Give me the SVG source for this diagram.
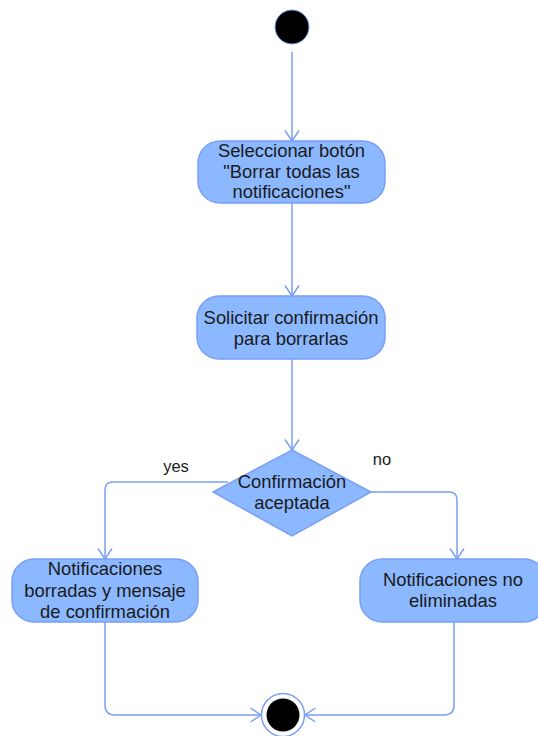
<svg xmlns="http://www.w3.org/2000/svg" width="538" height="736" viewBox="0 0 538 736">
  <style>
    .act { fill: #8bb8ff; stroke: #7a9ff5; stroke-width: 1.5; }
    .lbl { font-family: "Liberation Sans", Arial, sans-serif; font-size: 18.4px; fill: #1a1a1a; text-anchor: middle; }
    .edge-lbl { font-family: "Liberation Sans", Arial, sans-serif; font-size: 16.5px; fill: #1a1a1a; text-anchor: middle; }
    .edge { fill: none; stroke: #7a9ff5; stroke-width: 1.5; marker-end: url(#open); }
  </style>
  <defs>
    <marker id="open" viewBox="0 0 12 16" refX="11.5" refY="8" markerWidth="12" markerHeight="16" markerUnits="userSpaceOnUse" orient="auto">
      <path d="M1,1 L11.5,8 L1,15" fill="none" stroke="#7a9ff5" stroke-width="1.5"/>
    </marker>
  </defs>

  <g id="connectors">
    <path class="edge" d="M292,52 V141"/>
    <path class="edge" d="M292,203 V296"/>
    <path class="edge" d="M292,359 V450"/>
    <path class="edge" d="M228,482 H113 Q105,482 105,490 V559"/>
    <path class="edge" d="M371,492 H449 Q457,492 457,500 V559"/>
    <path class="edge" d="M105,622 V705 Q105,715 115,715 H261"/>
    <path class="edge" d="M454,622 V705 Q454,715 444,715 H305"/>
  </g>

  <g id="start">
    <circle cx="292" cy="27" r="17" fill="#000" stroke="#7a9ff5" stroke-width="1"/>
  </g>

  <g id="select-button">
    <rect class="act" x="198" y="141" width="187" height="62" rx="22"/>
    <text class="lbl" x="291.5" y="157">Seleccionar botón</text>
    <text class="lbl" x="291.5" y="177.5">"Borrar todas las</text>
    <text class="lbl" x="291.5" y="198">notificaciones"</text>
  </g>

  <g id="ask-confirmation">
    <rect class="act" x="197" y="296" width="188" height="63" rx="22"/>
    <text class="lbl" x="291" y="324">Solicitar confirmación</text>
    <text class="lbl" x="291" y="344.5">para borrarlas</text>
  </g>

  <g id="decision">
    <polygon class="act" points="292,450 371,492 292,536 213,492"/>
    <text class="lbl" x="292" y="488">Confirmación</text>
    <text class="lbl" x="292" y="509">aceptada</text>
  </g>

  <g id="edge-labels">
    <text class="edge-lbl" x="176" y="472">yes</text>
    <text class="edge-lbl" x="382" y="465">no</text>
  </g>

  <g id="deleted">
    <rect class="act" x="12" y="559" width="186" height="63" rx="22"/>
    <text class="lbl" x="105" y="575">Notificaciones</text>
    <text class="lbl" x="105" y="596.5">borradas y mensaje</text>
    <text class="lbl" x="105" y="618">de confirmación</text>
  </g>

  <g id="not-deleted">
    <rect class="act" x="360" y="559" width="186" height="63" rx="22"/>
    <text class="lbl" x="453" y="585.5">Notificaciones no</text>
    <text class="lbl" x="453" y="606.5">eliminadas</text>
  </g>

  <g id="end">
    <circle cx="283" cy="715" r="21.5" fill="#fff" stroke="#7a9ff5" stroke-width="1.5"/>
    <circle cx="283" cy="715" r="16.5" fill="#000"/>
  </g>
</svg>
